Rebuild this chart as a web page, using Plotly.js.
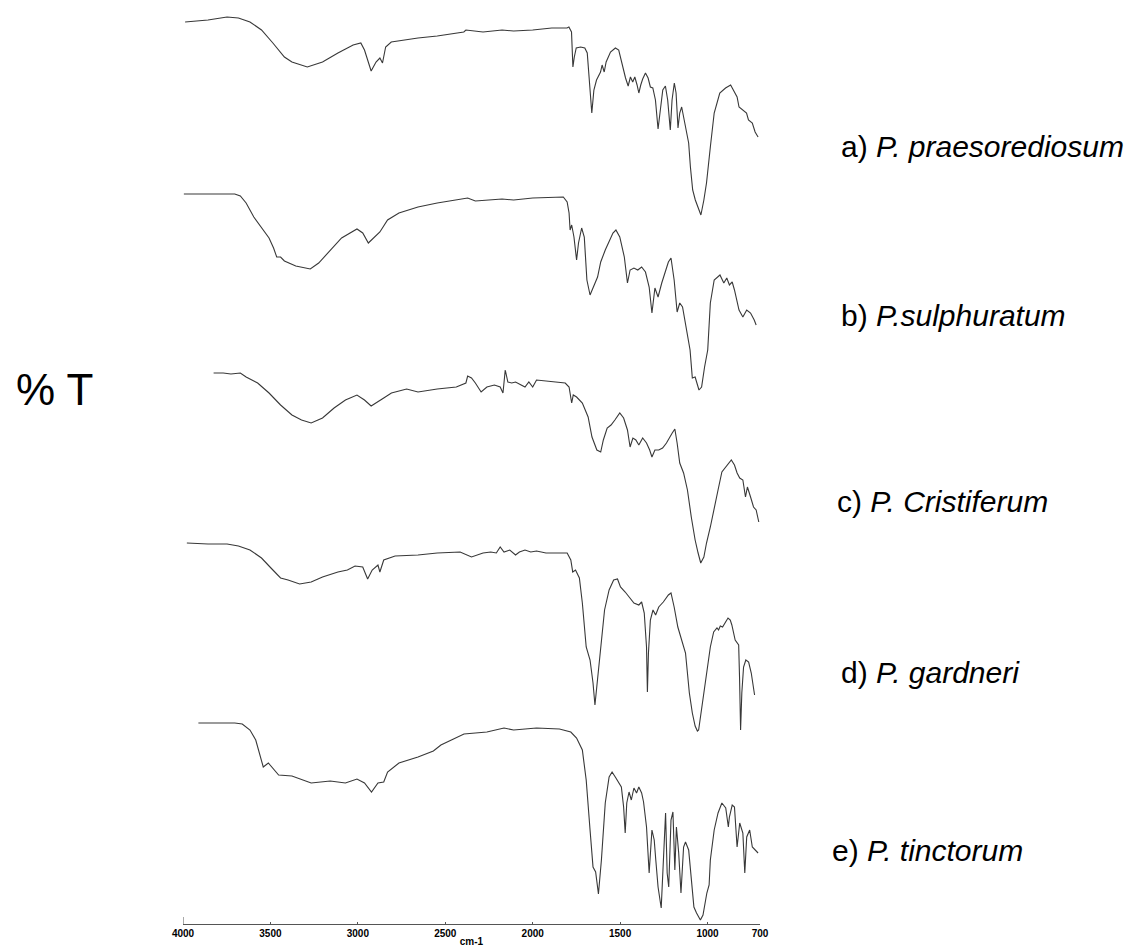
<!DOCTYPE html>
<html>
<head>
<meta charset="utf-8">
<script src="https://cdn.plot.ly/plotly-3.0.1.min.js"></script>
<style>html,body{margin:0;padding:0;background:#fff;}#chart{width:1132px;height:947px;}</style>
</head>
<body>
<div id="chart"></div>
<script>
// Wavenumbers (cm-1) and stacked transmittance values (arbitrary stacked %T units)
const wnA = [3988,3857,3748,3683,3617,3551,3486,3420,3377,3289,3202,3114,3027,2983,2962,2940,2924,2896,2874,2859,2841,2809,2656,2546,2394,2382,2284,2175,2109,2000,1891,1804,1793,1778,1770,1762,1751,1726,1702,1688,1675,1662,1650,1635,1612,1603,1591,1580,1555,1527,1508,1485,1469,1454,1441,1428,1416,1403,1393,1382,1371,1355,1340,1327,1313,1298,1283,1270,1256,1241,1228,1213,1203,1190,1180,1169,1159,1148,1137,1123,1108,1098,1085,1070,1051,1038,1021,1006,984,962,930,897,868,853,831,820,798,777,766,744,728,711];
const tA  = [902,904,907,906,902,894,881,867,862,857,862,871,879,881,874,861,853,862,866,861,877,882,886,888,892,894,892,894,893,894,896,896,897,892,857,867,876,877,876,871,844,811,834,844,852,859,852,862,872,876,874,857,846,838,847,842,847,839,831,839,845,851,846,837,836,824,795,814,834,838,824,794,824,841,831,796,811,817,807,792,781,757,734,724,714,709,724,741,777,811,831,836,839,834,827,817,814,811,804,801,792,787];

const wnB = [3995,3857,3704,3672,3639,3595,3551,3508,3482,3464,3442,3420,3355,3272,3224,3158,3093,3005,2972,2940,2907,2874,2830,2765,2656,2546,2372,2328,2175,2109,2000,1891,1825,1803,1792,1786,1777,1764,1749,1738,1720,1705,1690,1672,1650,1629,1611,1585,1541,1524,1502,1476,1458,1443,1421,1399,1377,1355,1334,1318,1301,1283,1262,1246,1224,1209,1191,1174,1159,1143,1126,1108,1100,1087,1071,1049,1034,1017,999,984,962,929,907,890,875,859,846,820,798,776,754,733,722];
const tB  = [730,730,730,728,721,707,696,686,676,667,667,663,658,655,661,674,686,695,691,681,687,692,704,711,717,721,726,723,725,724,726,727,727,722,711,694,699,687,664,681,696,687,644,629,639,647,662,674,691,694,687,667,641,654,656,654,657,652,637,611,636,627,641,649,662,666,644,612,621,617,601,581,574,546,547,534,537,557,574,621,644,649,641,646,639,642,634,614,607,614,611,604,599];

const wnC = [3825,3770,3726,3672,3639,3573,3508,3442,3377,3322,3267,3202,3136,3071,3005,2962,2924,2885,2852,2808,2721,2656,2546,2437,2382,2372,2350,2328,2295,2262,2219,2186,2170,2157,2142,2120,2098,2066,2044,2022,2000,1978,1924,1869,1814,1792,1777,1768,1749,1716,1683,1661,1633,1611,1596,1574,1552,1530,1502,1480,1458,1443,1427,1410,1393,1371,1349,1331,1318,1301,1279,1257,1235,1202,1187,1174,1159,1137,1115,1093,1071,1054,1039,1021,1006,984,962,940,918,896,881,864,846,831,816,798,783,772,754,737,722,707];
const tC  = [551,551,550,551,547,541,531,519,509,504,501,506,516,524,529,524,518,522,526,531,535,532,535,537,541,548,546,541,532,537,539,537,531,554,542,541,542,539,537,542,537,544,543,542,541,537,521,529,527,521,507,487,474,472,484,496,499,504,511,506,494,477,486,484,479,486,481,474,467,474,474,476,481,491,495,481,461,451,434,407,384,371,361,367,381,397,414,434,452,457,461,464,459,451,446,444,427,437,427,417,414,402];

const wnD = [3978,3857,3748,3683,3617,3551,3497,3442,3399,3333,3267,3202,3114,3060,3016,2972,2944,2918,2885,2874,2852,2787,2656,2546,2415,2350,2284,2240,2208,2186,2164,2131,2098,2076,2044,2011,1978,1924,1847,1803,1782,1771,1755,1733,1716,1694,1672,1655,1644,1629,1611,1589,1563,1537,1515,1498,1471,1443,1421,1393,1377,1362,1349,1344,1338,1327,1312,1297,1279,1253,1224,1209,1191,1170,1148,1126,1104,1087,1071,1058,1051,1028,1003,984,965,946,937,927,914,899,883,870,861,842,822,817,811,804,794,781,765,750,737,731];
const tD  = [381,380,380,378,374,366,356,346,344,340,342,347,352,354,358,357,345,354,359,352,364,368,369,371,372,367,371,372,371,377,372,374,369,372,374,372,373,371,371,371,364,352,354,346,321,277,264,241,219,247,281,314,334,344,345,337,332,326,321,319,322,311,277,232,271,304,314,309,317,322,329,331,317,297,284,271,231,211,198,193,194,224,257,277,292,296,294,298,297,302,306,304,299,284,279,247,194,231,257,264,262,251,237,229];

const wnE = [3912,3814,3704,3661,3617,3584,3562,3541,3512,3486,3453,3377,3267,3158,3071,3005,2962,2922,2885,2852,2830,2765,2656,2568,2525,2393,2262,2164,2109,1978,1847,1782,1749,1716,1694,1672,1655,1640,1624,1607,1585,1563,1546,1524,1508,1493,1480,1471,1462,1449,1436,1421,1406,1393,1377,1366,1349,1334,1318,1305,1296,1283,1265,1253,1240,1231,1222,1209,1198,1187,1178,1165,1152,1137,1126,1108,1093,1078,1063,1041,1026,1004,991,984,962,940,918,896,881,875,859,846,831,816,798,787,776,759,744,728,711];
const tE  = [201,201,201,200,194,184,171,157,161,156,149,148,141,143,141,145,141,132,141,142,152,161,167,173,179,190,192,196,194,196,195,192,186,174,144,94,57,52,30,64,121,147,152,146,141,137,117,91,121,132,124,136,131,137,131,122,97,51,94,84,64,37,16,71,111,51,37,104,112,54,97,71,31,77,82,74,44,17,11,4,9,31,39,64,94,111,121,116,97,107,119,117,77,101,91,51,87,94,77,74,71];

const speciesPrefix = ["a) ", "b) ", "c) ", "d) ", "e) "];
const speciesNames = ["P. praesorediosum", "P.sulphuratum", "P. Cristiferum", "P. gardneri", "P. tinctorum"];
const tickVals = [4000, 3500, 3000, 2500, 2000, 1500, 1000, 700];
const tickText = ["4000", "3500", "3000", "2500", "2000", "1500", "1000", "700"];

const series = [[wnA, tA], [wnB, tB], [wnC, tC], [wnD, tD], [wnE, tE]];
const lineColor = "#383838";
const traces = series.map((s, i) => ({
  x: s[0], y: s[1], type: "scatter", mode: "lines",
  line: {color: lineColor, width: 1.1},
  name: speciesNames[i], hoverinfo: "skip"
}));

// label positions (layout only)
const labelX = [1.137, 1.137, 1.130, 1.137, 1.1215];
const labelY = [778, 609, 423, 252, 74];
const annotations = speciesNames.map((n, i) => ({
  xref: "paper", yref: "y", x: labelX[i], y: labelY[i],
  xanchor: "left", yanchor: "middle", showarrow: false,
  text: speciesPrefix[i] + "<i>" + n + "</i>",
  font: {family: "Liberation Sans, Arial, sans-serif", size: 30, color: "#000"}
}));
annotations.push({
  xref: "paper", yref: "y", x: -0.152, y: 535, xanchor: "right", yanchor: "middle",
  showarrow: false, text: "% T",
  font: {family: "Liberation Sans, Arial, sans-serif", size: 44, color: "#000"}
});

const layout = {
  width: 1132, height: 947,
  margin: {l: 183, r: 372, t: 0, b: 23, pad: 0},
  paper_bgcolor: "#fff", plot_bgcolor: "#fff",
  showlegend: false,
  xaxis: {
    range: [4000, 700], tickvals: tickVals, ticktext: tickText,
    showgrid: false, zeroline: false, showline: true, linecolor: "#555", linewidth: 1,
    ticks: "inside", ticklen: 2, tickcolor: "#555",
    tickfont: {family: "Liberation Sans, Arial, sans-serif", size: 10, color: "#000", weight: "bold"},
    title: {text: "cm-1", standoff: 0, font: {family: "Liberation Sans, Arial, sans-serif", size: 10, color: "#000", weight: "bold"}}
  },
  yaxis: {range: [0, 924], visible: false, fixedrange: true},
  shapes: [{type: "line", xref: "x", yref: "y", x0: 4000, x1: 4000, y0: 0, y1: 7, line: {color: "#555", width: 1}}],
  annotations: annotations
};

Plotly.newPlot("chart", traces, layout, {staticPlot: true, displayModeBar: false});
</script>
</body>
</html>
